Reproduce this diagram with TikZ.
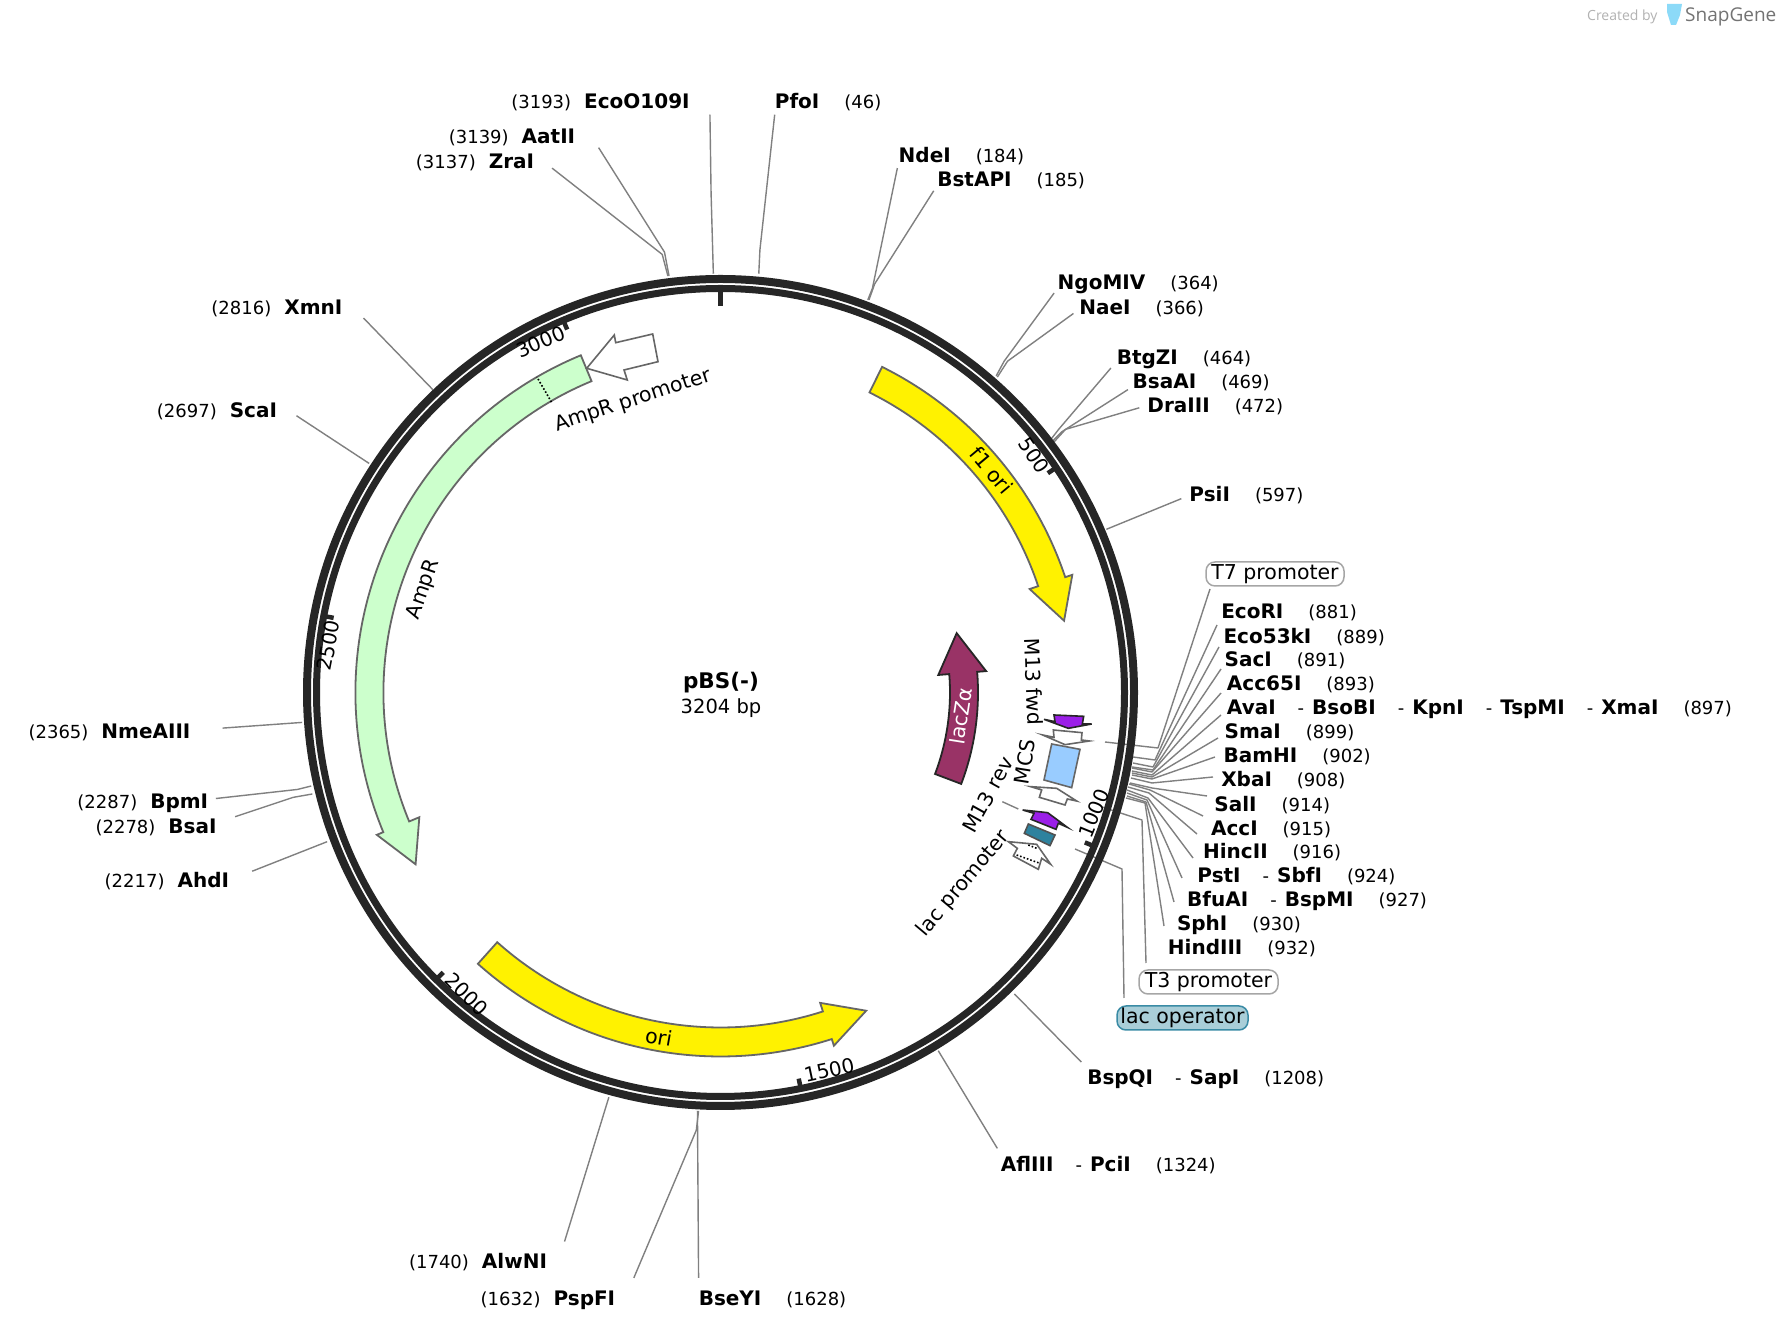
\documentclass[tikz,border=0pt]{standalone}
\usepackage{fontspec}
\setmainfont{DejaVu Sans}
\newfontfamily\logofont{Open Sans}
\definecolor{ringc}{HTML}{262626}
\definecolor{leadc}{HTML}{808080}
\definecolor{edgec}{HTML}{666666}
\definecolor{lacz}{HTML}{993366}
\definecolor{ampg}{HTML}{CCFFCC}
\definecolor{purp}{HTML}{9B1FE8}
\definecolor{mcsb}{HTML}{99CCFF}
\definecolor{teal1}{HTML}{2E829E}
\definecolor{opfill}{HTML}{A9CED8}
\definecolor{opedge}{HTML}{3A8BA5}
\tikzset{
  lead/.style={draw=leadc,line width=1.4pt,line join=round},
  enz/.style={anchor=base west,inner sep=0pt,font=\fontsize{18}{20}\selectfont},
  ftext/.style={inner sep=0pt,font=\fontsize{20.5}{24}\selectfont},
  ticktext/.style={inner sep=0pt,font=\fontsize{20}{24}\selectfont},
  feat/.style={draw=edgec,line width=1.8pt,line join=miter},
  small/.style={draw=edgec,line width=1.6pt,line join=miter,fill=white},
  tickm/.style={draw=ringc,line width=4.5pt},
  pill/.style={draw=#1,line width=1.5pt,rounded corners=9pt,minimum height=24pt,inner sep=0pt,font=\fontsize{20.5}{24}\selectfont}
}
\newcommand\nm[1]{{\fontsize{20}{24}\selectfont\bfseries #1}}
\newcommand\gapn{\hspace{25pt}}
\newcommand\gapl{\hspace{13pt}}
\newcommand\dsh{\hspace{22pt}-\hspace{8pt}}
\newcommand\enzlab[4]{\node[enz] (#1) at ({1.1359*#2},{1330-1.1359*#3-7}) {#4};}
\newcommand\ldd[7]{\coordinate (#1a) at ({1.1359*#2},{1330-1.1359*#3});\coordinate (#1b) at ({1.1359*#4},{1330-1.1359*#5});\coordinate (#1c) at ({1.1359*#6},{1330-1.1359*#7});\draw[lead] (#1a)--(#1b)--(#1c);}
\newcommand\lds[5]{\coordinate (#1a) at ({1.1359*#2},{1330-1.1359*#3});\coordinate (#1c) at ({1.1359*#4},{1330-1.1359*#5});\draw[lead] (#1a)--(#1c);}
\newcommand\ldr[7]{\coordinate (#1a) at (#2,{1330-#3});\coordinate (#1b) at (#4,{1330-#5});\coordinate (#1c) at (#6,{1330-#7});\draw[lead] (#1a)--(#1b)--(#1c);}
\newcommand\ftx[6][ftext]{\node[#1,rotate=#5] (#2) at (#3,{1330-#4}) {#6};}
\newcommand\featarrow[9]{\path[#1] ({90-#2}:#6) arc[start angle={90-#2},end angle={90-#3},radius=#6] -- ({90-#3}:#8) -- ({90-#4}:#9) -- ({90-#3}:#7) -- ({90-#3}:#5) arc[start angle={90-#3},end angle={90-#2},radius=#5] -- cycle;}
\begin{document}
\begin{tikzpicture}[x=1pt,y=1pt]
\useasboundingbox (0,0) rectangle (1780,1330);
\fill[white] (0,0) rectangle (1780,1330);
% top labels
\enzlab{EcoO}{450}{89}{(3193)\gapl\nm{EcoO109I}}
\ldd{lEcoO}{625}{101}{626}{170}{628}{241}
\enzlab{PfoI}{682}{89}{\nm{PfoI}\gapn(46)}
\ldd{lPfoI}{682}{101}{669}{220}{668}{241}
\enzlab{AatII}{395}{120}{(3139)\gapl\nm{AatII}}
\ldd{lAat}{527}{130}{585}{222}{589}{243}
\enzlab{ZraI}{366}{142}{(3137)\gapl\nm{ZraI}}
\ldd{lZra}{486}{148}{583}{224}{588}{243}
\enzlab{NdeI}{791}{137}{\nm{NdeI}\gapn(184)}
\ldd{lNde}{790}{148}{768}{254}{764}{264}
\enzlab{BstAPI}{825}{158}{\nm{BstAPI}\gapn(185)}
\ldd{lBst}{822}{168}{770}{250}{765}{264}
\enzlab{NgoMIV}{931}{249}{\nm{NgoMIV}\gapn(364)}
\ldd{lNgo}{928}{258}{884}{318}{877}{331}
\enzlab{NaeI}{950}{271}{\nm{NaeI}\gapn(366)}
\ldd{lNae}{945}{276}{887}{318}{878}{332}
\enzlab{BtgZI}{983}{315}{\nm{BtgZI}\gapn(464)}
\ldd{lBtg}{978}{324}{932}{378}{925}{387}
\enzlab{BsaAI}{997}{336}{\nm{BsaAI}\gapn(469)}
\ldd{lBsaA}{993}{343}{935}{380}{927}{388}
\enzlab{DraIII}{1010}{357}{\nm{DraIII}\gapn(472)}
\ldd{lDra}{1003}{359}{938}{378}{928}{389}
\enzlab{PsiI}{1047}{435}{\nm{PsiI}\gapn(597)}
\lds{lPsi}{1040}{439}{974}{466}
% right fan
\enzlab{EcoRI}{1075}{538}{\nm{EcoRI}\gapn(881)}
\enzlab{EcoF}{1077}{560}{\nm{Eco53kI}\gapn(889)}
\enzlab{SacI}{1078}{581}{\nm{SacI}\gapn(891)}
\enzlab{Acc}{1080}{602}{\nm{Acc65I}\gapn(893)}
\enzlab{AvaI}{1080}{623}{\nm{AvaI}\dsh\nm{BsoBI}\dsh\nm{KpnI}\dsh\nm{TspMI}\dsh\nm{XmaI}\gapn(897)}
\enzlab{SmaI}{1078}{644}{\nm{SmaI}\gapn(899)}
\enzlab{BamHI}{1077}{665}{\nm{BamHI}\gapn(902)}
\enzlab{XbaI}{1075}{686}{\nm{XbaI}\gapn(908)}
\enzlab{SalI}{1069}{708}{\nm{SalI}\gapn(914)}
\enzlab{AccI}{1066}{729}{\nm{AccI}\gapn(915)}
\enzlab{HincII}{1059}{750}{\nm{HincII}\gapn(916)}
\enzlab{PstI}{1054}{771}{\nm{PstI}\dsh\nm{SbfI}\gapn(924)}
\enzlab{BfuAI}{1045}{792}{\nm{BfuAI}\dsh\nm{BspMI}\gapn(927)}
\enzlab{SphI}{1036}{813}{\nm{SphI}\gapn(930)}
\enzlab{HindIII}{1028}{834}{\nm{HindIII}\gapn(932)}
\ldr{lT7}{1210}{589}{1158}{748}{1105}{742}
\ldr{lEcoRI}{1217}{625}{1155}{760}{1133}{757}
\ldr{lEcoF}{1219}{647}{1153}{767}{1133}{763}
\ldr{lSac}{1221}{669}{1153}{770}{1132}{767}
\ldr{lAcc}{1221}{693}{1152}{772}{1132}{768}
\ldr{lAva}{1221}{715}{1152}{775}{1132}{771}
\ldr{lSma}{1218}{738}{1152}{777}{1132}{773}
\ldr{lBam}{1215}{757}{1152}{779}{1132}{775}
\ldr{lXba}{1213}{777}{1152}{783}{1131}{778}
\ldr{lSal}{1207}{796}{1152}{788}{1130}{783}
\ldr{lAccI}{1203}{816}{1150}{790}{1129}{784}
\ldr{lHinc}{1197}{834}{1149}{793}{1128}{787}
\ldr{lPst}{1193}{858}{1148}{798}{1127}{790}
\ldr{lBfu}{1182}{878}{1147}{800}{1127}{793}
\ldr{lSph}{1174}{902}{1146}{802}{1127}{796}
\ldr{lHind}{1164}{926}{1145}{803}{1126}{798}
\ldr{lTthree}{1146}{963}{1142}{820}{1102}{807}
\ldr{lOp}{1124}{998}{1122}{869}{1075}{849}
\node[pill=black!35,minimum width=138pt] (Tseven) at (1275,{1330-574}) {T7 promoter};
\node[pill=black!35,minimum width=139pt] (Tthree) at (1208.5,{1330-982}) {T3 promoter};
\node[pill=opedge,fill=opfill,minimum width=131pt] (lacop) at (1182.5,{1330-1018}) {lac operator};
% bottom labels
\enzlab{BspQI}{957}{949}{\nm{BspQI}\dsh\nm{SapI}\gapn(1208)}
\lds{lBspQ}{952}{935}{893}{875}
\enzlab{AflIII}{881}{1025}{\nm{AflIII}\dsh\nm{PciI}\gapn(1324)}
\lds{lAfl}{878}{1011}{826}{925}
\enzlab{AlwNI}{360}{1111}{(1740)\gapl\nm{AlwNI}}
\lds{lAlw}{497}{1093}{536}{966}
\enzlab{PspFI}{423}{1143}{(1632)\gapl\nm{PspFI}}
\ldd{lPsp}{558}{1125}{613}{995}{615}{978}
\enzlab{BseYI}{615}{1143}{\nm{BseYI}\gapn(1628)}
\lds{lBse}{615}{1125}{614}{978}
% left labels
\enzlab{XmnI}{186}{271}{(2816)\gapl\nm{XmnI}}
\lds{lXmn}{320}{280}{381}{343}
\enzlab{ScaI}{138}{361}{(2697)\gapl\nm{ScaI}}
\lds{lSca}{261}{366}{325}{408}
\enzlab{NmeAIII}{25}{644}{(2365)\gapl\nm{NmeAIII}}
\lds{lNme}{196}{641}{266}{636}
\enzlab{BpmI}{68}{706}{(2287)\gapl\nm{BpmI}}
\ldd{lBpm}{190}{703}{262}{695}{274}{692}
\enzlab{BsaI}{84}{728}{(2278)\gapl\nm{BsaI}}
\ldd{lBsa}{207}{719}{258}{702}{275}{699}
\enzlab{AhdI}{92}{775}{(2217)\gapl\nm{AhdI}}
\lds{lAhd}{222}{767}{288}{741}
% small leader near M13 rev
\coordinate (mr1) at (1002.3,{1330-801.7});
\coordinate (mr2) at (1018.3,{1330-809});
\draw[lead] (mr1)--(mr2);
% ring, ticks, features
\begin{scope}[shift={(720.5,637.5)}]
\draw[draw=ringc,line width=8pt] (0,0) circle[radius=413.5];
\draw[draw=ringc,line width=7pt] (0,0) circle[radius=404];
\draw[tickm,line width=5.5pt] (90:403)--(90:386);
\foreach \n in {500,1000,1500,2000,2500,3000}{
  \pgfmathsetmacro\aa{90-0.11236*\n}
  \draw[tickm] (\aa:403)--(\aa:394);
}
\featarrow{feat,fill=yellow}{26.4}{71.5}{78.2}{335}{363.5}{326}{371}{351}
\featarrow{feat,fill=yellow}{221.8}{162.2}{155.4}{335}{364}{326}{371}{350}
\featarrow{feat,fill=ampg}{337.5}{247.5}{240.6}{337}{365}{326}{372}{350}
\draw[black,line width=1.6pt,dotted] ({90-329.8}:336)--({90-329.8}:365);
\featarrow{draw=ringc,line width=1.8pt,fill=lacz}{110.8}{85.4}{75.9}{229.5}{257.5}{218.5}{266.5}{243.5}
\end{scope}
% AmpR promoter arrow
\draw[small] (586.7,{1330-368.3})--(614.3,{1330-335})--(615.7,{1330-342.7})--(652.7,{1330-334})--(658,{1330-361.7})--(624,{1330-370})--(627.3,{1330-380})--cycle;
% small features
\begin{scope}[shift={(880,730)},x=0.33333pt,y=-0.33333pt]
\draw[draw=ringc,line width=1.6pt,fill=purp,line join=miter] (492,358)--(525,365)--(522,345)--(611,349)--(607,372)--(635,372)--(565,385)--cycle;
\draw[small] (488,405)--(522,412)--(520,390)--(606,398)--(604,420)--(628,423)--(555,434)--cycle;
\draw[small,fill=mcsb] (515,432)--(600,448)--(575,563)--(492,540)--cycle;
\draw[small] (452,560)--(530,565)--(590,603)--(562,597)--(555,615)--(478,592)--(485,570)--cycle;
\draw[draw=ringc,line width=1.6pt,fill=purp,line join=miter] (428,630)--(503,638)--(562,682)--(535,670)--(528,688)--(453,658)--(462,640)--cycle;
\draw[draw=ringc!80,line width=1.6pt,fill=teal1] (445,672)--(525,705)--(510,737)--(433,700)--cycle;
\draw[small] (385,725)--(470,733)--(512,793)--(485,775)--(475,808)--(400,768)--(412,745)--cycle;
\draw[black,line width=1.6pt,dotted] (445,735)--(470,745);
\draw[black,line width=1.6pt,dotted] (410,765)--(480,790);
\end{scope}
% feature labels
\ftx{fori}{991.7}{470.3}{-50}{f1 ori}
\ftx{ampr}{423.7}{589.5}{71}{AmpR}
\ftx{orilab}{658.8}{1037}{-10}{ori}
\ftx{amprp}{633}{401}{18}{AmpR promoter}
\node[ftext,rotate=81,text=white] (laczl) at (961,{1330-716}) {lacZα};
\ftx{mfwd}{1034}{681.7}{-88}{M13 fwd}
\ftx{mcs}{1025}{761.7}{81}{MCS}
\ftx{mrev}{987.7}{795}{61}{M13 rev}
\ftx{lacp}{963.3}{883.7}{50}{lac promoter}
% tick labels
\ftx[ticktext]{tv}{1033.7}{455.5}{-56}{500}
\ftx[ticktext]{tm}{1093.9}{813.3}{68}{1000}
\ftx[ticktext]{tmv}{829.2}{1070}{12}{1500}
\ftx[ticktext]{tmm}{466.9}{993.9}{-45}{2000}
\ftx[ticktext]{tmmv}{328.3}{645.2}{79}{2500}
\ftx[ticktext]{tmmm}{540.7}{341.9}{23}{3000}
% centre
\node[inner sep=0pt,font=\fontsize{21.5}{24}\selectfont\bfseries] (title) at (721,{1330-683}) {pBS(-)};
\node[inner sep=0pt,font=\fontsize{19.5}{24}\selectfont] (size) at (721,{1330-708}) {3204 bp};
% logo
\node[inner sep=0pt,anchor=base west,text=black!30,font=\logofont\fontsize{14}{16}\selectfont] (credit) at (1587,{1330-21}) {Created by};
\fill[cyan!45!white] (1667,{1330-4})--(1682,{1330-4})--(1680,{1330-15})--(1676,{1330-25})--(1671,{1330-25})--(1667,{1330-12})--cycle;
\node[inner sep=0pt,anchor=base west,text=black!55,font=\logofont\fontsize{19}{20}\selectfont] (snap) at (1685,{1330-22}) {SnapGene};
\end{tikzpicture}
\end{document}
